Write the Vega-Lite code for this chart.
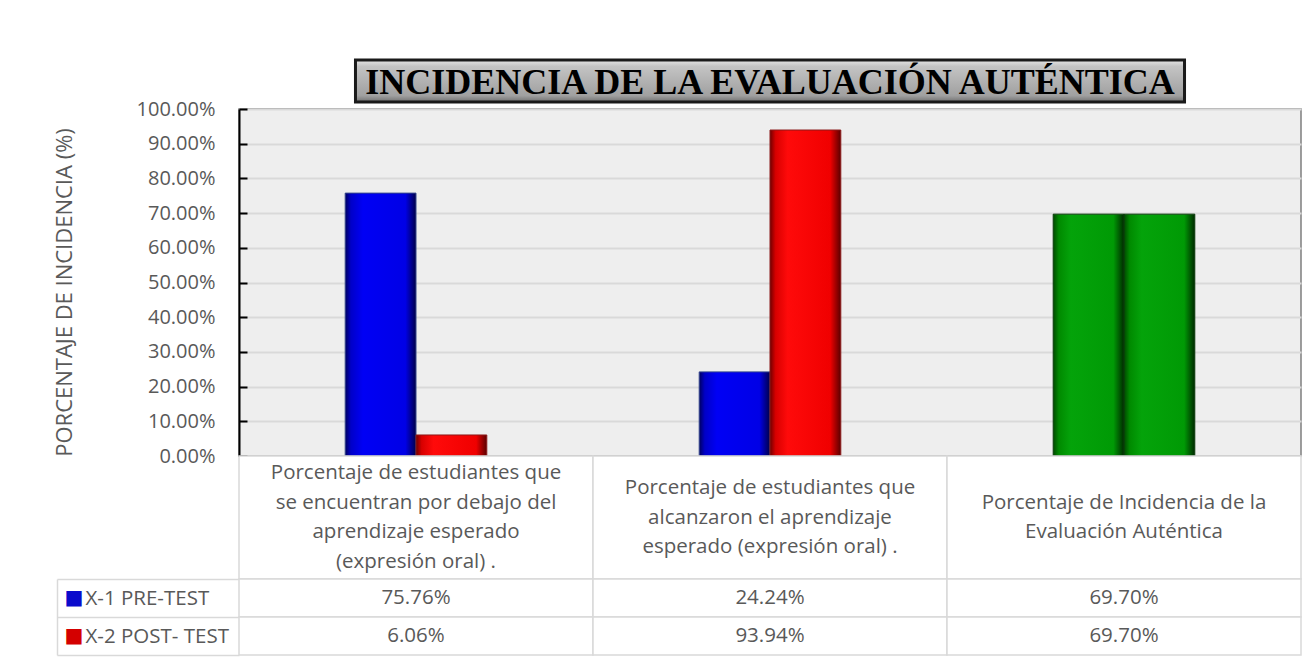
{
  "$schema": "https://vega.github.io/schema/vega-lite/v6.json",
  "background": "#ffffff",
  "padding": {"left": 52, "top": 58, "right": 5, "bottom": 5},
  "config": {"font": "Open Sans", "view": {"stroke": null}},
  "datasets": {
    "titulo": [{"titulo": "INCIDENCIA DE LA EVALUACIÓN AUTÉNTICA"}],
    "categorias": [
      {"categoria": "Porcentaje de estudiantes que\nse encuentran por debajo del\naprendizaje esperado\n(expresión oral) ."},
      {"categoria": "Porcentaje de estudiantes que\nalcanzaron el aprendizaje\nesperado (expresión oral) ."},
      {"categoria": "Porcentaje de Incidencia de la\nEvaluación Auténtica"}
    ],
    "valores": [
      {"categoria": "Porcentaje de estudiantes que\nse encuentran por debajo del\naprendizaje esperado\n(expresión oral) .", "serie": "X-1 PRE-TEST", "valor": 0.7576},
      {"categoria": "Porcentaje de estudiantes que\nse encuentran por debajo del\naprendizaje esperado\n(expresión oral) .", "serie": "X-2 POST- TEST", "valor": 0.0606},
      {"categoria": "Porcentaje de estudiantes que\nalcanzaron el aprendizaje\nesperado (expresión oral) .", "serie": "X-1 PRE-TEST", "valor": 0.2424},
      {"categoria": "Porcentaje de estudiantes que\nalcanzaron el aprendizaje\nesperado (expresión oral) .", "serie": "X-2 POST- TEST", "valor": 0.9394},
      {"categoria": "Porcentaje de Incidencia de la\nEvaluación Auténtica", "serie": "X-1 PRE-TEST", "valor": 0.697},
      {"categoria": "Porcentaje de Incidencia de la\nEvaluación Auténtica", "serie": "X-2 POST- TEST", "valor": 0.697}
    ]
  },
  "spacing": 0,
  "bounds": "flush",
  "resolve": {"scale": {"x": "independent", "y": "independent"}},
  "vconcat": [
    {
      "width": 1062,
      "height": 49,
      "data": {"name": "titulo"},
      "encoding": {
        "x": {"field": "titulo", "type": "nominal", "axis": null, "scale": {"paddingInner": 0, "paddingOuter": 0.1405}},
        "y": {"field": "titulo", "type": "nominal", "axis": null, "scale": {"paddingInner": 0, "paddingOuter": 0.0833, "align": 0}}
      },
      "layer": [
        {
          "mark": {
            "type": "rect",
            "stroke": "#1a1a1a",
            "strokeWidth": 3,
            "fill": {
              "gradient": "linear", "x1": 0, "y1": 0, "x2": 0, "y2": 1,
              "stops": [
                {"offset": 0, "color": "#e6e6e6"},
                {"offset": 0.15, "color": "#c4c4c4"},
                {"offset": 0.5, "color": "#b2b2b2"},
                {"offset": 0.85, "color": "#a0a0a0"},
                {"offset": 1, "color": "#707070"}
              ]
            }
          }
        },
        {
          "mark": {"type": "text", "font": "Liberation Serif", "fontWeight": "bold", "fontSize": 36, "fill": "#000000", "baseline": "middle", "dy": 2},
          "encoding": {"text": {"field": "titulo"}}
        }
      ]
    },
    {
      "width": 1062,
      "height": 347,
      "view": {"fill": "#eeeeee", "stroke": "#7f7f7f", "strokeWidth": 1.5},
      "data": {"name": "valores"},
      "encoding": {
        "x": {
          "field": "categoria", "type": "nominal", "axis": null, "sort": null,
          "scale": {"paddingInner": 0.6, "paddingOuter": 0.3}
        },
        "xOffset": {"field": "serie", "type": "nominal", "scale": {"domain": ["X-1 PRE-TEST", "X-2 POST- TEST"]}},
        "y": {
          "field": "valor", "type": "quantitative",
          "scale": {"domain": [0, 1], "nice": false},
          "axis": {
            "title": "PORCENTAJE DE INCIDENCIA (%)",
            "values": [0, 0.1, 0.2, 0.3, 0.4, 0.5, 0.6, 0.7, 0.8, 0.9, 1],
            "format": ".2%",
            "labelFont": "Open Sans", "labelFontSize": 20, "labelColor": "#595959",
            "tickSize": -8, "tickColor": "#000000", "tickWidth": 2, "labelPadding": 32,
            "domainColor": "#000000", "domainWidth": 2,
            "gridColor": "#d9d9d9", "gridWidth": 2,
            "titleFont": "Open Sans", "titleFontSize": 22, "titleFontWeight": "normal", "titleColor": "#595959",
            "titleAngle": -90, "titleX": -175, "titleY": 183, "titleAlign": "center", "titleBaseline": "middle"
          }
        }
      },
      "layer": [
        {
          "transform": [{"filter": "datum.serie === 'X-1 PRE-TEST' && indexof(datum.categoria, 'Incidencia de la') < 0"}],
          "mark": {
            "type": "bar", "stroke": "#34468c", "strokeWidth": 1,
            "fill": {"gradient": "linear", "x1": 0, "y1": 0, "x2": 1, "y2": 0,
              "stops": [
                {"offset": 0, "color": "#000060"},
                {"offset": 0.08, "color": "#0000c8"},
                {"offset": 0.25, "color": "#0000f5"},
                {"offset": 0.85, "color": "#0000e6"},
                {"offset": 1, "color": "#00004a"}
              ]}
          }
        },
        {
          "transform": [{"filter": "datum.serie === 'X-2 POST- TEST' && indexof(datum.categoria, 'Incidencia de la') < 0"}],
          "mark": {
            "type": "bar", "stroke": "#8c1a1a", "strokeWidth": 1,
            "fill": {"gradient": "linear", "x1": 0, "y1": 0, "x2": 1, "y2": 0,
              "stops": [
                {"offset": 0, "color": "#700000"},
                {"offset": 0.08, "color": "#d80000"},
                {"offset": 0.25, "color": "#ff0a0a"},
                {"offset": 0.85, "color": "#f00000"},
                {"offset": 1, "color": "#5a0000"}
              ]}
          }
        },
        {
          "transform": [{"filter": "indexof(datum.categoria, 'Incidencia de la') >= 0"}],
          "mark": {
            "type": "bar", "stroke": "#0b3d0b", "strokeWidth": 1,
            "fill": {"gradient": "linear", "x1": 0, "y1": 0, "x2": 1, "y2": 0,
              "stops": [
                {"offset": 0, "color": "#004a00"},
                {"offset": 0.08, "color": "#008a00"},
                {"offset": 0.25, "color": "#04a30a"},
                {"offset": 0.85, "color": "#009a05"},
                {"offset": 1, "color": "#002a00"}
              ]}
          }
        }
      ]
    },
    {
      "width": 1062,
      "height": 123,
      "data": {"name": "categorias"},
      "encoding": {
        "x": {"field": "categoria", "type": "nominal", "axis": null, "sort": null, "scale": {"paddingInner": 0, "paddingOuter": 0}},
        "text": {"field": "categoria"}
      },
      "layer": [
        {"mark": {"type": "rect", "fill": "#ffffff", "stroke": "#d9d9d9", "strokeWidth": 1.5}, "encoding": {"text": null}},
        {
          "transform": [{"filter": "indexof(datum.categoria, 'debajo') >= 0"}],
          "mark": {"type": "text", "font": "Open Sans", "fontSize": 20.5, "fill": "#595959", "lineBreak": "\n", "lineHeight": 29.5, "baseline": "middle", "dy": -44.25}
        },
        {
          "transform": [{"filter": "indexof(datum.categoria, 'alcanzaron') >= 0"}],
          "mark": {"type": "text", "font": "Open Sans", "fontSize": 20.5, "fill": "#595959", "lineBreak": "\n", "lineHeight": 29.5, "baseline": "middle", "dy": -29.5}
        },
        {
          "transform": [{"filter": "indexof(datum.categoria, 'Incidencia de la') >= 0"}],
          "mark": {"type": "text", "font": "Open Sans", "fontSize": 20.5, "fill": "#595959", "lineBreak": "\n", "lineHeight": 29.5, "baseline": "middle", "dy": -14.75}
        }
      ]
    },
    {
      "width": 1062,
      "height": 76,
      "data": {"name": "valores"},
      "encoding": {
        "x": {"field": "categoria", "type": "nominal", "axis": null, "sort": null, "scale": {"paddingInner": 0, "paddingOuter": 0}},
        "y": {"field": "serie", "type": "nominal", "sort": null, "scale": {"domain": ["X-1 PRE-TEST", "X-2 POST- TEST"], "paddingInner": 0, "paddingOuter": 0}}
      },
      "resolve": {"axis": {"y": "independent"}},
      "layer": [
        {
          "mark": {"type": "rect", "fill": "#ffffff", "stroke": "#d9d9d9", "strokeWidth": 1.5},
          "encoding": {
            "y": {"field": "serie", "type": "nominal", "sort": null,
              "axis": {
                "orient": "left", "offset": 182, "title": null, "domain": false, "ticks": false, "grid": false,
                "labelExpr": "'■'", "labelAlign": "left", "labelPadding": -7,
                "labelFont": "DejaVu Sans", "labelFontSize": 20,
                "labelColor": {"condition": {"test": "datum.value === 'X-1 PRE-TEST'", "value": "#0a0acc"}, "value": "#d40000"}
              }
            }
          }
        },
        {
          "mark": {"type": "text", "font": "Open Sans", "fontSize": 20.5, "fill": "#595959", "baseline": "middle"},
          "encoding": {
            "text": {"field": "valor", "type": "quantitative", "format": ".2%"},
            "y": {"field": "serie", "type": "nominal", "sort": null,
              "axis": {
                "orient": "left", "offset": 182, "title": null, "grid": false,
                "domainColor": "#d9d9d9", "domainWidth": 1.5,
                "tickBand": "extent", "tickSize": -182, "tickColor": "#d9d9d9", "tickWidth": 1.5,
                "labelAlign": "left", "labelPadding": 154,
                "labelFont": "Open Sans", "labelFontSize": 20.5, "labelColor": "#595959"
              }
            }
          }
        }
      ]
    }
  ]
}
